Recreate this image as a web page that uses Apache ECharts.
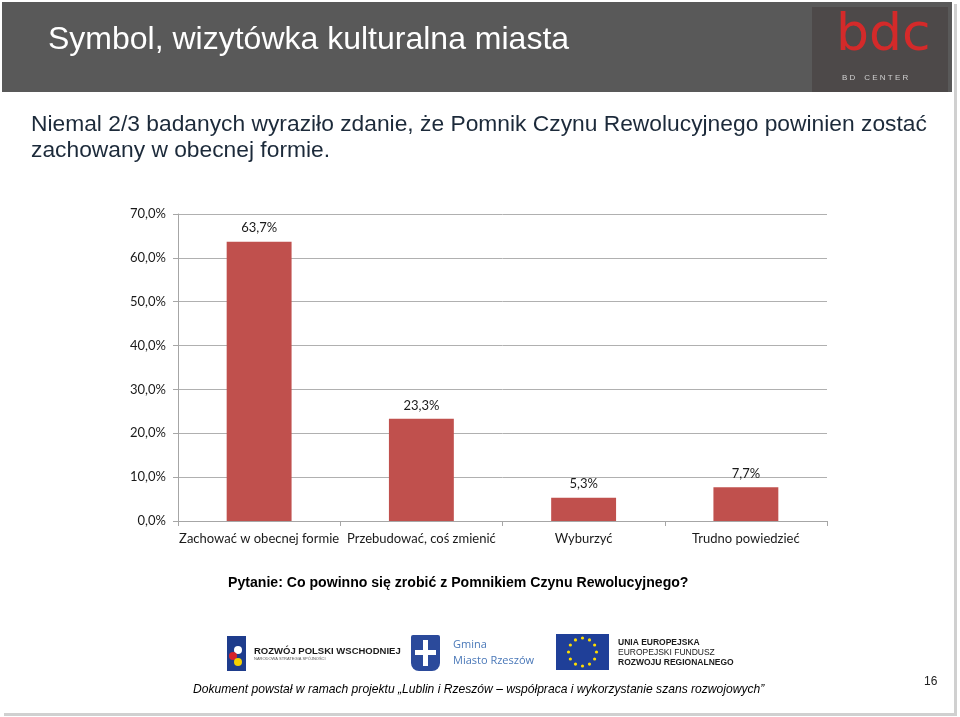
<!DOCTYPE html>
<html><head><meta charset="utf-8">
<script src="https://cdn.jsdelivr.net/npm/echarts@6/dist/echarts.min.js"></script>
<style>html,body{margin:0;padding:0;background:#fff}#c{width:960px;height:717px}</style>
</head><body><div id="c"></div>
<script>
const categories = ['Zachować w obecnej formie', 'Przebudować, coś zmienić', 'Wyburzyć', 'Trudno powiedzieć'];
const values = [63.7, 23.3, 5.3, 7.7];
const yTicks = [0, 10, 20, 30, 40, 50, 60, 70];
const titleText = 'Symbol, wizytówka kulturalna miasta';
const subtitleLines = ['Niemal 2/3 badanych wyraziło zdanie, że Pomnik Czynu Rewolucyjnego powinien zostać', 'zachowany w obecnej formie.'];
const questionText = 'Pytanie: Co powinno się zrobić z Pomnikiem Czynu Rewolucyjnego?';
const footerText = 'Dokument powstał w ramach projektu „Lublin i Rzeszów – współpraca i wykorzystanie szans rozwojowych”';
const pageNumber = '16';

const fmt = v => v.toFixed(1).replace('.', ',') + '%';
const chart = echarts.init(document.getElementById('c'));

// EU stars
const stars = [];
for (let i = 0; i < 12; i++) {
  const a = i * Math.PI / 6;
  stars.push({type:'circle', shape:{cx: 582.5 + 14*Math.cos(a), cy: 652 + 14*Math.sin(a), r:1.6}, style:{fill:'#ffdd00'}});
}

chart.setOption({
  animation:false,
  grid:{left:178, right:133, top:214, bottom:196},
  xAxis:{
    type:'category', data:categories,
    axisLine:{lineStyle:{color:'#a6a6a6', width:1}},
    axisTick:{show:true, length:5, lineStyle:{color:'#a6a6a6'}},
    axisLabel:{color:'#1a1a1a', fontSize:13, fontFamily:'Lato, "Open Sans", sans-serif', margin:11, interval:0}
  },
  yAxis:{
    type:'value', min:yTicks[0], max:yTicks[yTicks.length-1], interval:10,
    axisLine:{show:true, lineStyle:{color:'#a6a6a6'}},
    axisTick:{show:true, length:5, lineStyle:{color:'#a6a6a6'}},
    splitLine:{lineStyle:{color:'#b0b0b0', width:1}},
    axisLabel:{formatter:v=>fmt(v), color:'#1a1a1a', fontSize:13, fontFamily:'Lato, "Open Sans", sans-serif', margin:12}
  },
  series:[{
    type:'bar', data:values, barCategoryGap:'60%',
    itemStyle:{color:'#c0504d'},
    label:{show:true, position:'top', distance:7, formatter:p=>fmt(p.value), color:'#1a1a1a', fontSize:13, fontFamily:'Lato, "Open Sans", sans-serif'}
  }],
  graphic:[
    {type:'rect', shape:{x:954, y:4, width:3, height:712}, style:{fill:'#d0d0d0'}, z:-1},
    {type:'rect', shape:{x:4, y:713, width:953, height:3}, style:{fill:'#d0d0d0'}, z:-1},
    {type:'rect', shape:{x:2, y:2, width:950, height:90}, style:{fill:'#595959'}},
    {type:'rect', shape:{x:812, y:7, width:136, height:85}, style:{fill:'#4d4949'}},
    {type:'text', left:48, top:24, style:{text:titleText, fill:'#ffffff', font:'32px "Liberation Sans", Arial, sans-serif'}},
    {type:'text', left:836, top:10, style:{text:'bdc', fill:'#d42a2a', font:'52px "DejaVu Sans", sans-serif'}},
    {type:'text', left:842, top:74, style:{text:'B D    C E N T E R', fill:'#d0d0d0', font:'8px "Liberation Sans", Arial, sans-serif'}},
    {type:'text', left:31, top:113, style:{text:subtitleLines[0], fill:'#1c2a3a', font:'22.8px "Liberation Sans", Arial, sans-serif'}},
    {type:'text', left:31, top:139, style:{text:subtitleLines[1], fill:'#1c2a3a', font:'22.8px "Liberation Sans", Arial, sans-serif'}},
    {type:'text', left:228, top:576, style:{text:questionText, fill:'#000', font:'bold 14.1px "Liberation Sans", Arial, sans-serif'}},
    // logo 1
    {type:'rect', shape:{x:227, y:636, width:19, height:35}, style:{fill:'#1e3c8c'}},
    {type:'circle', shape:{cx:238, cy:650, r:4}, style:{fill:'#ffffff'}},
    {type:'circle', shape:{cx:233, cy:656, r:4}, style:{fill:'#d8232a'}},
    {type:'circle', shape:{cx:238, cy:662, r:4}, style:{fill:'#f5d100'}},
    {type:'text', left:254, top:646, style:{text:'ROZWÓJ POLSKI WSCHODNIEJ', fill:'#1a1a1a', font:'bold 9.5px "Liberation Sans", Arial, sans-serif'}},
    {type:'text', left:254, top:657, style:{text:'NARODOWA STRATEGIA SPÓJNOŚCI', fill:'#555', font:'4px "Liberation Sans", Arial, sans-serif'}},
    // logo 2
    {type:'rect', shape:{x:411, y:635, width:29, height:36, r:[2,2,8,8]}, style:{fill:'#2b4a9b'}},
    {type:'rect', shape:{x:423, y:640, width:5, height:26}, style:{fill:'#fff'}},
    {type:'rect', shape:{x:415, y:650, width:21, height:5}, style:{fill:'#fff'}},
    {type:'text', left:453, top:639, style:{text:'Gmina', fill:'#4a78b8', font:'11px "Open Sans", sans-serif'}},
    {type:'text', left:453, top:655, style:{text:'Miasto Rzeszów', fill:'#4a78b8', font:'11px "Open Sans", sans-serif'}},
    // logo 3
    {type:'rect', shape:{x:556, y:634, width:53, height:36}, style:{fill:'#1f3f98'}},
    ...stars,
    {type:'text', left:618, top:638, style:{text:'UNIA EUROPEJSKA', fill:'#1a1a1a', font:'bold 8.5px "Liberation Sans", Arial, sans-serif'}},
    {type:'text', left:618, top:648, style:{text:'EUROPEJSKI FUNDUSZ', fill:'#1a1a1a', font:'8.5px "Liberation Sans", Arial, sans-serif'}},
    {type:'text', left:618, top:658, style:{text:'ROZWOJU REGIONALNEGO', fill:'#1a1a1a', font:'bold 8.5px "Liberation Sans", Arial, sans-serif'}},
    {type:'text', left:193, top:684, style:{text:footerText, fill:'#000', font:'italic 12.1px "Liberation Sans", Arial, sans-serif'}},
    {type:'text', left:924, top:676, style:{text:pageNumber, fill:'#222', font:'12px "Liberation Sans", Arial, sans-serif'}}
  ]
});
</script></body></html>
